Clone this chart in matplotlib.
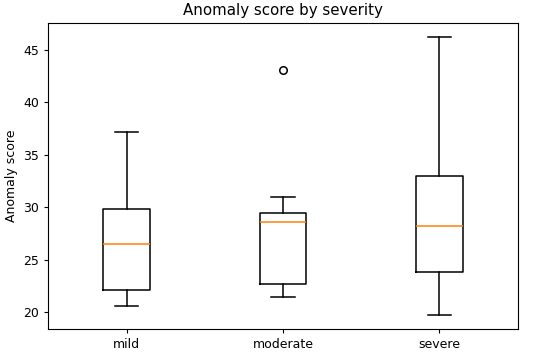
import matplotlib
matplotlib.use("Agg")
import matplotlib.pyplot as plt

# Box statistics
severity = ["mild", "moderate", "severe"]
whisker_low = [20.6, 21.45, 19.75]
q1 = [22.1, 22.7, 23.8]
median = [26.5, 28.6, 28.25]
q3 = [29.85, 29.5, 32.95]
whisker_high = [37.15, 31.0, 46.2]
outliers = [[], [43.1], []]

stats = []
for i, name in enumerate(severity):
    stats.append({
        "label": name,
        "whislo": whisker_low[i],
        "q1": q1[i],
        "med": median[i],
        "q3": q3[i],
        "whishi": whisker_high[i],
        "fliers": outliers[i],
    })

# original looks like a 90 dpi render, so scale text down a touch
plt.rcParams["font.size"] = 9
plt.rcParams["axes.titlesize"] = 10.8
plt.rcParams["xtick.major.size"] = 3.2
plt.rcParams["ytick.major.size"] = 3.2

fig, ax = plt.subplots(figsize=(5.5, 3.54), dpi=100)
fig.subplots_adjust(left=0.088, right=0.941, top=0.934, bottom=0.071)

lw = 1.1
ax.bxp(stats,
       boxprops={"linewidth": lw},
       whiskerprops={"linewidth": lw},
       capprops={"linewidth": lw},
       medianprops={"linewidth": lw, "color": "#ff7f0e"},
       flierprops={"markeredgewidth": lw, "markersize": 5.4})

ax.set_title("Anomaly score by severity")
ax.set_ylabel("Anomaly score")

fig.savefig("out.png", dpi=100)
